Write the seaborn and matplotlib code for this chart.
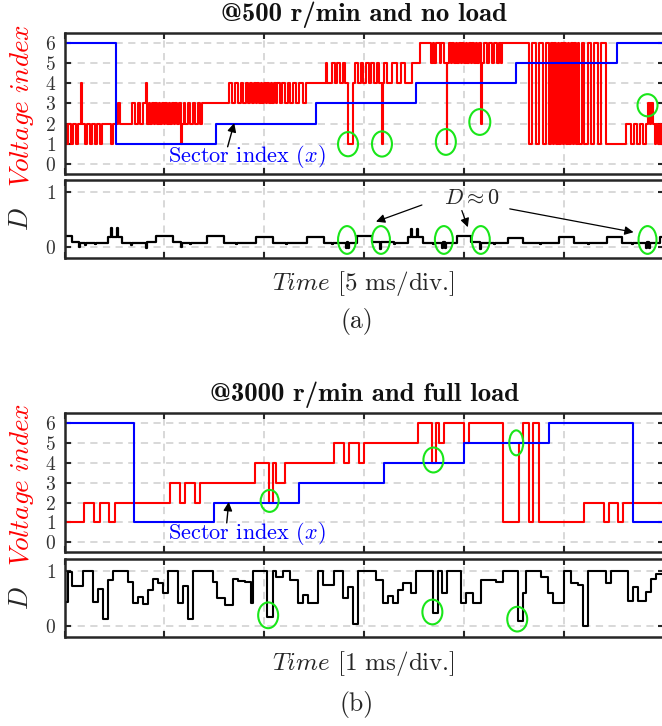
import matplotlib
matplotlib.use("Agg")
import matplotlib.pyplot as plt
from matplotlib.patches import Ellipse
import pandas as pd
import seaborn as sns

# ------------------------------------------------------------------
# (a) 500 r/min, no load  -- time axis in ms (5 ms/div)
# ------------------------------------------------------------------
sector_a_t = [0.0, 2.57, 7.57, 12.58, 17.60, 22.62, 27.65, 30.0]
sector_a_v = [6, 1, 2, 3, 4, 5, 6, 6]

# applied voltage vector index, switching instants per stretch
volt_a_t1 = [0.00, 0.08, 0.20, 0.33, 0.45, 0.58, 0.70, 0.83, 0.88, 1.01, 1.13,
             1.26, 1.38, 1.51, 1.63, 1.76, 1.88, 2.34, 2.44, 2.69, 2.79]
volt_a_v1 = [2, 1, 2, 1, 2, 1, 2, 4, 2, 1, 2, 1, 2, 1, 2, 1, 2, 1, 2, 3, 2]

volt_a_t2 = [3.38, 3.54, 3.68, 3.79, 3.93, 4.07, 4.12, 4.21, 4.30, 4.38, 4.46,
             4.55, 4.63, 4.71, 4.80, 4.88, 4.96, 5.05, 5.14, 5.22, 5.30, 5.39,
             5.47, 5.55, 5.64, 5.72, 5.83, 5.88, 5.97, 6.06, 6.17, 6.31, 6.44,
             6.56, 6.67, 6.81, 6.89]
volt_a_v2 = [3, 2, 3, 2, 3, 4, 2, 3, 2, 3, 2, 3, 2, 3, 2, 3, 2, 3, 2, 3, 2, 3,
             2, 3, 2, 3, 1, 2, 3, 2, 3, 2, 3, 2, 3, 2, 3]

volt_a_t3 = [8.23, 8.40, 8.53, 8.68, 8.82, 8.95, 9.07, 9.19, 9.29, 9.41, 9.49,
             9.57, 9.66, 9.74, 9.82, 9.91, 9.99, 10.08, 10.16, 10.24, 10.33,
             10.41, 10.49, 10.58, 10.66, 10.79, 10.91, 11.05, 11.17, 11.30,
             11.42, 11.58, 11.75, 11.92, 12.09, 13.09, 13.17]
volt_a_v3 = [4, 3, 4, 3, 4, 3, 4, 3, 4, 3, 4, 3, 4, 3, 4, 3, 4, 3, 4, 3, 4, 3,
             4, 3, 4, 3, 4, 3, 4, 3, 4, 3, 4, 3, 4, 5, 4]

volt_a_t4 = [13.39, 13.53, 13.66, 13.79, 13.93, 14.06, 14.20, 14.43, 14.56,
             14.70, 14.83, 14.96, 15.10, 15.24, 15.37, 15.50, 15.64, 15.77,
             15.90, 15.95, 16.00, 16.16, 16.41, 16.66, 16.86, 17.06, 17.41]
volt_a_v4 = [5, 4, 5, 4, 5, 4, 1, 4, 5, 4, 5, 4, 5, 4, 5, 4, 5, 4, 1, 4, 5, 4,
             5, 4, 5, 4, 5]

volt_a_t5 = [17.78, 18.37, 18.45, 18.53, 18.62, 18.80, 18.88, 19.00, 19.14,
             19.17, 19.26, 19.34, 19.42, 19.51, 19.59, 19.67, 19.76, 19.84,
             19.92, 20.01, 20.09, 20.18, 20.26, 20.34, 20.43, 20.51, 20.59,
             20.68, 20.76, 20.84, 20.88, 20.91, 21.01, 21.18, 21.27, 21.43,
             21.52, 21.68, 21.77, 21.85, 21.93]
volt_a_v5 = [6, 5, 6, 5, 6, 5, 6, 5, 1, 5, 6, 5, 6, 5, 6, 5, 6, 5, 6, 5, 6, 5,
             6, 5, 6, 5, 6, 5, 6, 5, 2, 5, 6, 5, 6, 5, 6, 5, 6, 5, 6]

volt_a_t6 = [23.28, 23.41, 23.61, 23.78, 23.94, 24.11, 24.25, 24.36, 24.45,
             24.53, 24.61, 24.70, 24.78, 24.86, 24.95, 25.03, 25.12, 25.20,
             25.29, 25.37, 25.45, 25.54, 25.62, 25.70, 25.79, 25.92, 26.04,
             26.21, 26.37, 26.54, 26.71, 26.87, 27.13]
volt_a_v6 = [1, 6, 1, 6, 1, 6, 1, 6, 1, 6, 1, 6, 1, 6, 1, 6, 1, 6, 1, 6, 1, 6,
             1, 6, 1, 6, 1, 6, 1, 6, 1, 6, 1]

volt_a_t7 = [28.13, 28.35, 28.52, 28.67, 28.80, 28.97, 29.14, 29.22, 29.31,
             29.39, 29.47, 29.56, 29.64, 29.72, 29.81, 29.89, 29.97, 30.00]
volt_a_v7 = [2, 1, 2, 1, 2, 1, 2, 3, 2, 3, 2, 1, 2, 1, 2, 1, 2, 2]

duty_a_t = [0.00, 0.38, 0.75, 0.80, 1.05, 1.10, 1.55, 1.60, 2.17, 2.32, 2.37,
            2.62, 2.67, 2.89, 3.35, 3.40, 4.06, 4.11, 4.60, 5.45, 5.82, 5.87,
            6.30, 6.35, 7.15, 7.99, 8.60, 8.65, 9.57, 10.42, 11.10, 11.15,
            12.14, 12.99, 13.40, 13.45, 14.08, 14.13, 14.18, 14.23, 14.65,
            15.40, 15.82, 15.87, 16.50, 16.55, 17.21, 17.33, 17.38, 17.67,
            17.72, 17.96, 18.45, 18.50, 18.90, 18.95, 19.05, 19.10, 19.67,
            20.38, 20.83, 20.88, 21.50, 21.55, 22.19, 22.98, 23.80, 23.85,
            24.75, 25.50, 26.20, 26.25, 27.16, 27.91, 28.40, 28.45, 29.10,
            29.15, 29.25, 29.30, 29.82, 30.00]
duty_a_v = [0.20, 0.09, 0.00, 0.08, 0.04, 0.08, 0.05, 0.08, 0.19, 0.35, 0.19,
            0.35, 0.19, 0.08, 0.04, 0.08, -0.02, 0.09, 0.20, 0.09, 0.00, 0.08,
            0.05, 0.08, 0.21, 0.08, 0.05, 0.08, 0.19, 0.08, 0.05, 0.08,
            0.18, 0.08, 0.05, 0.08, -0.02, 0.10, -0.02, 0.08, 0.20,
            0.10, -0.03, 0.09, 0.05, 0.08, 0.19, 0.32, 0.19, 0.32,
            0.19, 0.08, 0.05, 0.08, -0.01, 0.09, -0.01, 0.08, 0.20,
            0.09, -0.03, 0.08, 0.05, 0.08, 0.16, 0.07, 0.05, 0.08,
            0.18, 0.08, 0.05, 0.08, 0.18, 0.07, 0.05, 0.08, -0.02,
            0.10, -0.02, 0.08, 0.18, 0.18]

# ------------------------------------------------------------------
# (b) 3000 r/min, full load  -- time axis in ms (1 ms/div)
# ------------------------------------------------------------------
sector_b_t = [0.0, 0.70, 1.50, 2.35, 3.20, 4.00, 4.85, 5.69, 6.00]
sector_b_v = [6, 1, 2, 3, 4, 5, 6, 1, 1]

volt_b_t = [0.00, 0.195, 0.30, 0.355, 0.45, 0.505, 1.055, 1.155, 1.205, 1.305,
            1.355, 1.905, 2.05, 2.085, 2.12, 2.205, 2.70, 2.80, 2.85, 2.95,
            3.00, 3.54, 3.68, 3.725, 3.75, 3.80, 4.00, 4.05, 4.39, 4.55, 4.59,
            4.65, 4.69, 4.75, 5.20, 5.40, 5.45, 5.54, 5.59, 6.00]
volt_b_v = [1, 2, 1, 2, 1, 2, 3, 2, 3, 2, 3, 4, 2, 4, 3, 4, 5, 4, 5, 4,
            5, 6, 4, 6, 5, 6, 5, 6, 1, 5, 6, 1, 6, 1, 2, 1, 2, 1, 2, 2]

duty_b_t = [0.00, 0.04, 0.08, 0.19, 0.29, 0.34, 0.39, 0.44, 0.49, 0.64,
            0.69, 0.74, 0.79, 0.84, 0.89, 0.94, 0.99, 1.04, 1.14, 1.19,
            1.24, 1.29, 1.49, 1.53, 1.605, 1.69, 1.74, 1.805, 1.87, 1.89,
            2.03, 2.09, 2.12, 2.19, 2.255, 2.34, 2.39, 2.44, 2.54, 2.59,
            2.695, 2.79, 2.84, 2.89, 2.94, 3.12, 3.19, 3.24, 3.29, 3.34,
            3.39, 3.47, 3.52, 3.69, 3.74, 3.78, 3.83, 3.97, 4.02, 4.09,
            4.17, 4.32, 4.39, 4.54, 4.59, 4.62, 4.77, 4.84, 4.89, 5.005,
            5.07, 5.14, 5.19, 5.24, 5.42, 5.47, 5.64, 5.69, 5.74, 5.82,
            5.87, 5.92, 6.00]
duty_b_v = [0.44, 0.98, 0.72, 1.00, 0.44, 0.66, 0.12, 0.84, 1.00, 0.80,
            0.41, 0.52, 0.39, 0.65, 0.86, 0.78, 0.59, 1.00, 0.41, 0.72,
            0.13, 1.00, 0.80, 0.50, 0.38, 0.86, 0.82, 0.80, 0.42, 1.00,
            0.16, 1.00, 0.89, 1.00, 0.84, 0.41, 0.56, 0.41, 1.00, 0.74,
            1.00, 0.50, 0.71, 0.04, 1.00, 0.84, 0.41, 0.54, 0.41, 0.65,
            0.77, 0.59, 1.00, 0.24, 1.00, 0.59, 1.00, 0.41, 0.60, 0.41,
            0.83, 0.80, 1.00, 0.08, 0.60, 1.00, 0.89, 0.60, 0.42, 1.00,
            0.77, 0.74, 0.00, 1.00, 0.77, 1.00, 0.45, 0.71, 0.45, 0.62,
            0.86, 0.95, 0.95]

# highlighted events: (centre time, centre value, width, height)
rings_a_volt = [(14.2, 0.98, 1.0, 1.2), (15.9, 0.99, 1.0, 1.25),
                (19.1, 1.09, 1.0, 1.28), (20.8, 2.08, 1.05, 1.28),
                (29.2, 2.91, 1.0, 1.1)]
rings_a_duty = [(14.15, 0.13, 0.9, 0.5), (15.85, 0.13, 0.9, 0.5),
                (19.0, 0.13, 0.9, 0.5), (20.85, 0.13, 0.9, 0.5),
                (29.2, 0.13, 0.9, 0.5)]
rings_b_volt = [(2.055, 2.08, 0.18, 1.1), (3.695, 4.13, 0.2, 1.25),
                (4.525, 4.99, 0.14, 1.25)]
rings_b_duty = [(2.04, 0.19, 0.2, 0.47), (3.685, 0.25, 0.2, 0.45),
                (4.535, 0.12, 0.2, 0.45)]

volt_a_t = volt_a_t1 + volt_a_t2 + volt_a_t3 + volt_a_t4 + volt_a_t5 + volt_a_t6 + volt_a_t7
volt_a_v = volt_a_v1 + volt_a_v2 + volt_a_v3 + volt_a_v4 + volt_a_v5 + volt_a_v6 + volt_a_v7

# ------------------------------------------------------------------
sns.set_style("white")
plt.rcParams.update({
    "font.family": ["cmr10", "DejaVu Serif"],
    "mathtext.fontset": "cm",
    "axes.formatter.use_mathtext": True,
    "axes.unicode_minus": False,
})

W, H = 662, 726
fig = plt.figure(figsize=(W / 100, H / 100), dpi=100)
fig.patch.set_facecolor("white")


def box(l, t, r, b):
    return [l / W, 1 - b / H, (r - l) / W, (b - t) / H]


def fpos(x, y):
    return (x / W, 1 - y / H)


ax_a1 = fig.add_axes(box(64.5, 32.5, 663.5, 174))
ax_a2 = fig.add_axes(box(64.5, 180, 663.5, 258.3))
ax_b1 = fig.add_axes(box(64.5, 412.7, 663.5, 552))
ax_b2 = fig.add_axes(box(64.5, 559.3, 663.5, 636.7))

INK = "#262626"
RED = "#ff0000"
BLUE = "#0000ff"
GREEN = "#19e619"


def step_line(ax, t, v, color, lw=1.5):
    df = pd.DataFrame({"t": t, "v": v})
    sns.lineplot(data=df, x="t", y="v", ax=ax, color=color, lw=lw,
                 drawstyle="steps-post", estimator=None, sort=False,
                 errorbar=None)


def style(ax, xlim, xticks, ylim, yticks):
    ax.set_xlim(*xlim)
    ax.set_ylim(*ylim)
    ax.set_xticks(xticks)
    ax.set_yticks(yticks)
    ax.set_xlabel("")
    ax.set_ylabel("")
    ax.set_axisbelow(True)
    ax.grid(True, color="#d6d6d6", lw=1.3, ls=(0, (4, 3)))
    ax.tick_params(direction="in", length=4.5, width=1.5, color=INK,
                   top=True, right=True, bottom=True, left=True,
                   labelbottom=False, labelsize=14, labelcolor="#333333",
                   pad=6)
    for s in ax.spines.values():
        s.set_linewidth(1.8)
        s.set_color(INK)


def rings(ax, items):
    for (cx, cy, w, h) in items:
        ax.add_patch(Ellipse((cx, cy), w, h, fill=False, ec=GREEN, lw=1.5,
                             zorder=5))


# ---- (a) ----
step_line(ax_a1, volt_a_t, volt_a_v, RED)
step_line(ax_a1, sector_a_t, sector_a_v, BLUE)
style(ax_a1, (0, 30), [0, 5, 10, 15, 20, 25, 30], (-0.5, 6.52), range(7))
rings(ax_a1, rings_a_volt)
ax_a1.text(5.18, 0.38, "Sector index $(x)$", color=BLUE, fontsize=16,
           ha="left", va="center")
ax_a1.annotate("", xy=(8.5, 2.03), xytext=(8.17, 0.85),
               arrowprops=dict(arrowstyle="-|>", color="k", lw=1.0,
                               mutation_scale=13, shrinkA=0, shrinkB=0))

step_line(ax_a2, duty_a_t, duty_a_v, "black", lw=1.6)
style(ax_a2, (0, 30), [0, 5, 10, 15, 20, 25, 30], (-0.2, 1.21), [0, 1])
rings(ax_a2, rings_a_duty)
ax_a2.text(20.4, 0.88, r"$D\approx0$", fontsize=16, ha="center", va="center")
for tail, head in [((17.9, 0.76), (15.6, 0.46)),
                   ((19.9, 0.66), (20.2, 0.36)),
                   ((22.3, 0.69), (28.5, 0.27))]:
    ax_a2.annotate("", xy=head, xytext=tail,
                   arrowprops=dict(arrowstyle="-|>", color="k", lw=0.9,
                                   mutation_scale=13, shrinkA=0, shrinkB=0))

# ---- (b) ----
step_line(ax_b1, volt_b_t, volt_b_v, RED)
step_line(ax_b1, sector_b_t, sector_b_v, BLUE)
style(ax_b1, (0, 6), range(7), (-0.48, 6.5), range(7))
rings(ax_b1, rings_b_volt)
ax_b1.text(1.035, 0.43, "Sector index $(x)$", color=BLUE, fontsize=16,
           ha="left", va="center")
ax_b1.annotate("", xy=(1.645, 2.03), xytext=(1.625, 0.98),
               arrowprops=dict(arrowstyle="-|>", color="k", lw=1.0,
                               mutation_scale=13, shrinkA=0, shrinkB=0))

step_line(ax_b2, duty_b_t, duty_b_v, "black", lw=1.5)
style(ax_b2, (0, 6), range(7), (-0.2, 1.21), [0, 1])
rings(ax_b2, rings_b_duty)

# ---- titles and labels ----
title_font = ["cmb10", "DejaVu Serif"]
fig.text(*fpos(364, 20.7), "@500 r/min and no load", family=title_font,
         fontsize=19.3, ha="center", va="baseline", color="#111111")
fig.text(*fpos(364, 400.7), "@3000 r/min and full load", family=title_font,
         fontsize=19.3, ha="center", va="baseline", color="#111111")

for yc in (106, 485):
    fig.text(*fpos(22.5, yc), r"$Voltage\ index$", color=RED, fontsize=19.5,
             rotation=90, ha="center", va="center")
for yc in (219, 598):
    fig.text(*fpos(21, yc), r"$D$", color=INK, fontsize=19.5,
             rotation=90, ha="center", va="center")

fig.text(*fpos(363, 283), r"$Time$ [5 ms/div.]", fontsize=18, color=INK,
         ha="center", va="center")
fig.text(*fpos(363, 663), r"$Time$ [1 ms/div.]", fontsize=18, color=INK,
         ha="center", va="center")
fig.text(*fpos(357, 322), "(a)", fontsize=18.5, color=INK,
         ha="center", va="center")
fig.text(*fpos(357, 705), "(b)", fontsize=18.5, color=INK,
         ha="center", va="center")

fig.savefig("out.png", dpi=100, facecolor="white")
